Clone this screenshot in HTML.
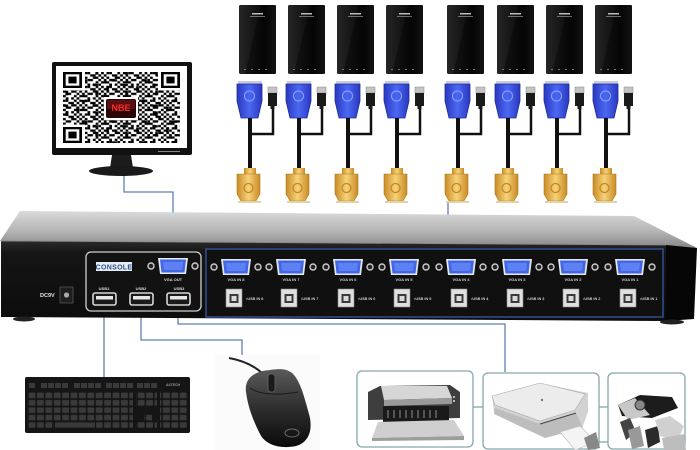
<!DOCTYPE html>
<html><head><meta charset="utf-8">
<style>
html,body{margin:0;padding:0;background:#fff;}
svg{display:block;}
text{font-family:"Liberation Sans",sans-serif;}
</style></head><body>
<svg width="700" height="450" viewBox="0 0 700 450" xmlns="http://www.w3.org/2000/svg">
<defs>
  <linearGradient id="tower" x1="0" x2="1" y1="0" y2="0">
    <stop offset="0" stop-color="#262626"/><stop offset="0.7" stop-color="#080808"/><stop offset="1" stop-color="#1e1e1e"/>
  </linearGradient>
  <linearGradient id="blue" x1="0" x2="1">
    <stop offset="0" stop-color="#2a38c0"/><stop offset="0.5" stop-color="#4c68f2"/><stop offset="1" stop-color="#2a38c0"/>
  </linearGradient>
  <linearGradient id="gold" x1="0" x2="1">
    <stop offset="0" stop-color="#c98b25"/><stop offset="0.5" stop-color="#f6d27a"/><stop offset="1" stop-color="#c98b25"/>
  </linearGradient>
  <linearGradient id="topface" x1="0" x2="0" y1="0" y2="1">
    <stop offset="0" stop-color="#dadada"/><stop offset="0.55" stop-color="#b4b4b4"/><stop offset="1" stop-color="#858585"/>
  </linearGradient>
  <linearGradient id="front" x1="0" x2="0" y1="0" y2="1">
    <stop offset="0" stop-color="#2a2a2a"/><stop offset="0.15" stop-color="#151515"/><stop offset="1" stop-color="#0c0c0c"/>
  </linearGradient>
  <linearGradient id="mouse" x1="0" x2="0" y1="0" y2="1">
    <stop offset="0" stop-color="#5a5a5a"/><stop offset="0.5" stop-color="#2e2e2e"/><stop offset="1" stop-color="#0a0a0a"/>
  </linearGradient>
  <pattern id="qr" x="63" y="72" width="21.76" height="13.8" patternUnits="userSpaceOnUse">
    <rect x="0" y="0" width="2.72" height="2.3"/><rect x="2.72" y="0" width="2.72" height="2.3"/><rect x="10.88" y="0" width="2.72" height="2.3"/><rect x="16.32" y="0" width="2.72" height="2.3"/>
    <rect x="5.44" y="2.3" width="5.44" height="2.3"/><rect x="13.6" y="2.3" width="2.72" height="2.3"/><rect x="19.04" y="2.3" width="2.72" height="2.3"/>
    <rect x="0" y="4.6" width="2.72" height="2.3"/><rect x="8.16" y="4.6" width="5.44" height="2.3"/><rect x="16.32" y="4.6" width="2.72" height="2.3"/>
    <rect x="2.72" y="6.9" width="5.44" height="2.3"/><rect x="13.6" y="6.9" width="2.72" height="2.3"/><rect x="19.04" y="6.9" width="2.72" height="2.3"/>
    <rect x="0" y="9.2" width="2.72" height="2.3"/><rect x="10.88" y="9.2" width="2.72" height="2.3"/><rect x="16.32" y="9.2" width="5.44" height="2.3"/>
    <rect x="2.72" y="11.5" width="2.72" height="2.3"/><rect x="8.16" y="11.5" width="2.72" height="2.3"/><rect x="13.6" y="11.5" width="2.72" height="2.3"/>
  </pattern>
  <pattern id="qr2" x="60" y="70" width="29.9" height="20.7" patternUnits="userSpaceOnUse">
    <rect x="5.44" y="0" width="2.72" height="4.6"/><rect x="21.76" y="9.2" width="5.44" height="2.3"/><rect x="2.72" y="13.8" width="5.44" height="2.3"/><rect x="16.32" y="16.1" width="2.72" height="4.6"/>
  </pattern>
  <pattern id="keys" x="28" y="392" width="8.4" height="7.4" patternUnits="userSpaceOnUse">
    <rect x="0.6" y="0.6" width="6.8" height="5.6" rx="0.8" fill="#3a3a3a"/>
  </pattern>

  <g id="pc">
    <rect x="0" y="5" width="37" height="69" rx="1.5" fill="url(#tower)"/>
    <path d="M 22 5 L 37 5 L 37 74 L 6 74 Z" fill="#000" opacity="0.35"/>
    <rect x="13" y="13" width="11" height="1.5" fill="#bbb"/>
    <rect x="11" y="16" width="15" height="0.8" fill="#888"/>
    <rect x="5" y="69" width="2" height="1" fill="#777"/><rect x="12" y="69" width="2" height="1" fill="#777"/><rect x="19" y="69" width="2" height="1" fill="#777"/><rect x="26" y="69" width="2" height="1" fill="#777"/>
    <rect x="-1" y="81" width="24" height="3" fill="#c9cbe0"/>
    <path d="M -2 84 L 23 84 L 23 101 L 19 118 L 2 118 L -2 101 Z" fill="url(#blue)" stroke="#1e2c9a" stroke-width="0.8"/>
    <circle cx="10.5" cy="96" r="5" fill="none" stroke="#7f9cff" stroke-width="1.2"/>
    <rect x="9" y="118" width="4" height="54" fill="#111"/>
    <path d="M 11 134 H 34 V 108" fill="none" stroke="#111" stroke-width="2.5"/>
    <rect x="29" y="87" width="9" height="6" fill="#c4c4c4" stroke="#888" stroke-width="0.5"/>
    <rect x="29" y="93" width="9" height="13" fill="#1a1a1a"/>
    <rect x="31.5" y="106" width="4" height="3" fill="#1a1a1a"/>
    <rect x="5" y="168" width="12" height="6" fill="url(#gold)"/>
    <path d="M -2 174 L 21 174 L 21 194 L 17 201 L 2 201 L -2 194 Z" fill="url(#gold)" stroke="#b07a1a" stroke-width="0.6"/>
    <circle cx="9.5" cy="188" r="4.5" fill="none" stroke="#c9861d" stroke-width="1.3"/>
    <rect x="-1" y="201" width="23" height="2" fill="#e2d2a8"/>
  </g>

  <g id="vga">
    <circle cx="-22" cy="0" r="3" fill="#222" stroke="#ccc" stroke-width="1.4"/>
    <circle cx="22" cy="0" r="3" fill="#222" stroke="#ccc" stroke-width="1.4"/>
    <path d="M -15 -8 L 15 -8 L 13 8 L -13 8 Z" fill="#e8e8e8"/>
    <path d="M -13 -6.5 L 13 -6.5 L 11.5 6.5 L -11.5 6.5 Z" fill="#3f67e6"/>
    <path d="M -10 -4 L 10 -4 L 9 4 L -9 4 Z" fill="#6c8cf6" opacity="0.7"/>
  </g>
  <g id="usbb">
    <rect x="0" y="0" width="16" height="18" fill="#e0e0e0" stroke="#888" stroke-width="0.6"/>
    <path d="M 3.5 5 L 12.5 5 L 12.5 14 L 3.5 14 Z" fill="#3a3a3a"/>
    <rect x="5.5" y="7" width="5" height="5" fill="#d8d8d8"/>
  </g>
  <g id="usba">
    <rect x="0" y="0" width="23" height="12" rx="2" fill="#1a1a1a" stroke="#d6d6d6" stroke-width="1.6"/>
    <rect x="3" y="3" width="17" height="3.5" fill="#e8e8e8"/>
  </g>
</defs>

<rect width="700" height="450" fill="#fff"/>

<!-- Monitor -->
<rect x="52" y="62" width="140" height="93" rx="2" fill="#111"/>
<rect x="56" y="66" width="131" height="82" fill="#fff"/>
<rect x="158" y="151" width="22" height="1" fill="#888"/>
<path d="M 112 155 L 131 155 L 133 168 L 110 168 Z" fill="#1c1c1c"/>
<ellipse cx="121" cy="171" rx="32" ry="5" fill="#1a1a1a"/>
<rect x="63" y="72" width="117" height="71" fill="url(#qr)"/>
<rect x="63" y="72" width="117" height="71" fill="url(#qr2)"/>
<g>
  <rect x="63" y="72" width="22" height="18.4" fill="#fff"/>
  <rect x="63" y="72" width="19" height="16" fill="#000"/><rect x="65.7" y="74.3" width="13.6" height="11.4" fill="#fff"/><rect x="68.4" y="76.6" width="8.2" height="6.8" fill="#000"/>
  <rect x="158" y="72" width="22" height="18.4" fill="#fff"/>
  <rect x="161" y="72" width="19" height="16" fill="#000"/><rect x="163.7" y="74.3" width="13.6" height="11.4" fill="#fff"/><rect x="166.4" y="76.6" width="8.2" height="6.8" fill="#000"/>
  <rect x="63" y="124.6" width="22" height="18.4" fill="#fff"/>
  <rect x="63" y="127" width="19" height="16" fill="#000"/><rect x="65.7" y="129.3" width="13.6" height="11.4" fill="#fff"/><rect x="68.4" y="131.6" width="8.2" height="6.8" fill="#000"/>
</g>
<rect x="104" y="97" width="34" height="23" fill="#fff"/>
<rect x="106" y="99" width="30" height="19" rx="2" fill="#2a0606"/>
<rect x="107" y="100" width="28" height="9" fill="#5a1010"/>
<text x="121" y="111" text-anchor="middle" font-size="9" font-weight="bold" fill="#ff2a2a">NBE</text>

<!-- connector lines -->
<g fill="none" stroke="#5f81b3" stroke-width="1.3">
  <path d="M 124 176 V 192 H 173 V 258"/>
  <path d="M 448 203 V 250"/>
  <path d="M 104 305 V 377"/>
  <path d="M 141 305 V 340 H 242 V 357"/>
  <path d="M 178 305 V 324 H 505 V 372"/>
</g>

<!-- PCs -->
<use href="#pc" x="239"/>
<use href="#pc" x="288"/>
<use href="#pc" x="337"/>
<use href="#pc" x="386"/>
<use href="#pc" x="447"/>
<use href="#pc" x="497"/>
<use href="#pc" x="546"/>
<use href="#pc" x="595"/>

<!-- KVM -->
<path d="M 20 211 L 634 216 L 697 248 L 0 241 Z" fill="url(#topface)"/>
<path d="M 1 241 L 666 245 L 666 321 L 1 317 Z" fill="url(#front)"/>
<path d="M 666 245 L 697 248 L 694 319 L 666 321 Z" fill="#060606"/>
<ellipse cx="24" cy="319" rx="11" ry="2.5" fill="#222"/>
<ellipse cx="672" cy="322" rx="12" ry="2.5" fill="#222"/>
<line x1="1" y1="241" x2="666" y2="245" stroke="#8a8a8a" stroke-width="0.8"/>

<!-- console panel -->
<rect x="86" y="252" width="115" height="59" rx="5" fill="#121212" stroke="#cfcfcf" stroke-width="1.3"/>
<rect x="96" y="262" width="36" height="9" fill="#e8eef6"/>
<text x="114" y="269.5" text-anchor="middle" font-size="7" font-weight="bold" fill="#2d4f8a" letter-spacing="0.3">CONSOLE</text>
<use href="#vga" x="173" y="266"/>
<text x="173" y="281" text-anchor="middle" font-size="4" font-weight="bold" fill="#ddd">VGA OUT</text>
<text x="104" y="290" text-anchor="middle" font-size="4" font-weight="bold" fill="#ddd">USB1</text>
<text x="141" y="290" text-anchor="middle" font-size="4" font-weight="bold" fill="#ddd">USB2</text>
<text x="179" y="290" text-anchor="middle" font-size="4" font-weight="bold" fill="#ddd">USB3</text>
<use href="#usba" x="93" y="293"/>
<use href="#usba" x="130" y="293"/>
<use href="#usba" x="167" y="293"/>
<text x="40" y="297" font-size="5.5" font-weight="bold" fill="#e6e6e6">DC9V</text>
<rect x="60" y="287" width="13" height="16" fill="#1e1e1e" stroke="#555" stroke-width="0.8"/>
<circle cx="66.5" cy="295" r="2.6" fill="#aaa"/>

<!-- inputs panel -->
<rect x="206" y="249" width="457" height="68" fill="#101010" stroke="#30508f" stroke-width="1.5"/>
<g>
  <use href="#vga" x="236" y="267"/><use href="#vga" x="291" y="267"/><use href="#vga" x="348" y="267"/><use href="#vga" x="404" y="267"/>
  <use href="#vga" x="461" y="267"/><use href="#vga" x="517" y="267"/><use href="#vga" x="573" y="267"/><use href="#vga" x="630" y="267"/>
</g>
<g font-size="4" font-weight="bold" fill="#cfcfcf" text-anchor="middle">
  <text x="236" y="281">VGA IN 8</text><text x="291" y="281">VGA IN 7</text><text x="348" y="281">VGA IN 6</text><text x="404" y="281">VGA IN 5</text>
  <text x="461" y="281">VGA IN 4</text><text x="517" y="281">VGA IN 3</text><text x="573" y="281">VGA IN 2</text><text x="630" y="281">VGA IN 1</text>
</g>
<g>
  <use href="#usbb" x="226" y="289"/><use href="#usbb" x="281" y="289"/><use href="#usbb" x="338" y="289"/><use href="#usbb" x="394" y="289"/>
  <use href="#usbb" x="451" y="289"/><use href="#usbb" x="507" y="289"/><use href="#usbb" x="563" y="289"/><use href="#usbb" x="620" y="289"/>
</g>
<g font-size="3.8" font-weight="bold" fill="#cfcfcf">
  <text x="246" y="300">•USB IN 8</text><text x="301" y="300">•USB IN 7</text><text x="358" y="300">•USB IN 6</text><text x="414" y="300">•USB IN 5</text>
  <text x="471" y="300">•USB IN 4</text><text x="527" y="300">•USB IN 3</text><text x="583" y="300">•USB IN 2</text><text x="640" y="300">•USB IN 1</text>
</g>

<!-- Keyboard -->
<rect x="25" y="377" width="165" height="56" rx="2" fill="#151515"/>
<g fill="#3a3a3a">
  <rect x="29" y="383" width="6" height="5"/>
  <rect x="41" y="383" width="6" height="5"/><rect x="48" y="383" width="6" height="5"/><rect x="55" y="383" width="6" height="5"/><rect x="62" y="383" width="6" height="5"/>
  <rect x="74" y="383" width="6" height="5"/><rect x="81" y="383" width="6" height="5"/><rect x="88" y="383" width="6" height="5"/><rect x="95" y="383" width="6" height="5"/>
  <rect x="106" y="383" width="6" height="5"/><rect x="113" y="383" width="6" height="5"/><rect x="120" y="383" width="6" height="5"/><rect x="127" y="383" width="6" height="5"/>
  <rect x="137" y="383" width="6" height="5"/><rect x="144" y="383" width="6" height="5"/><rect x="151" y="383" width="6" height="5"/>
</g>
<rect x="28" y="392" width="105" height="37" fill="url(#keys)"/>
<rect x="136" y="392" width="21" height="15" fill="url(#keys)"/>
<rect x="144" y="414" width="8" height="8" fill="url(#keys)"/>
<rect x="136" y="421" width="21" height="8" fill="url(#keys)"/>
<rect x="160" y="392" width="27" height="37" fill="url(#keys)"/>
<rect x="54" y="422" width="42" height="6" fill="#151515"/>
<rect x="55" y="422.5" width="40" height="5" rx="0.8" fill="#3a3a3a"/>
<text x="166" y="386" font-size="3.5" font-weight="bold" fill="#999">A4TECH</text>

<!-- Mouse -->
<rect x="215" y="355" width="105" height="95" fill="#fbfbfb"/>
<path d="M 229 358 C 240 360 252 364 262 373" fill="none" stroke="#222" stroke-width="2"/>
<path d="M 270 370 C 255 371 244 378 246 392 C 248 408 254 422 260 434 C 266 446 282 449 296 446 C 310 442 313 428 309 414 C 304 396 300 380 292 373 C 285 368 278 369 270 370 Z" fill="url(#mouse)"/>
<path d="M 250 388 C 258 394 276 396 298 392" fill="none" stroke="#1a1a1a" stroke-width="1"/>
<rect x="268" y="374" width="7" height="18" rx="3" fill="#1a1a1a" stroke="#666" stroke-width="0.8"/>
<ellipse cx="292" cy="433" rx="7" ry="4" fill="none" stroke="#888" stroke-width="0.8"/>

<!-- Peripheral boxes -->
<g fill="#fff" stroke="#86a6ae" stroke-width="1.3">
  <rect x="357" y="371" width="116" height="76" rx="5"/>
  <rect x="483" y="373" width="116" height="76" rx="5"/>
  <rect x="608" y="373" width="77" height="76" rx="5"/>
</g>
<g stroke="#86a6ae" stroke-width="1.3">
  <line x1="473" y1="407" x2="483" y2="407"/>
  <line x1="599" y1="407" x2="608" y2="407"/>
  <line x1="599" y1="442" x2="608" y2="442"/>
</g>
<!-- printer -->
<path d="M 368 392 L 380 386 L 450 385 L 460 392 L 460 418 L 368 420 Z" fill="#3e3e3e"/>
<path d="M 381 386 L 447 386 L 452 398 L 384 400 Z" fill="#d6d6d6"/>
<path d="M 384 400 L 452 398 L 452 404 L 384 406 Z" fill="#9a9a9a"/>
<rect x="383" y="406" width="66" height="16" fill="#1a1a1a"/>
<g fill="#555"><rect x="387" y="410" width="2" height="8"/><rect x="393" y="410" width="2" height="8"/><rect x="399" y="410" width="2" height="8"/><rect x="405" y="410" width="2" height="8"/><rect x="411" y="410" width="2" height="8"/><rect x="417" y="410" width="2" height="8"/><rect x="423" y="410" width="2" height="8"/><rect x="429" y="410" width="2" height="8"/><rect x="435" y="410" width="2" height="8"/></g>
<path d="M 378 422 L 454 420 L 464 436 L 372 438 Z" fill="#cfcfcf"/>
<path d="M 372 438 L 464 436 L 464 440 L 372 441 Z" fill="#9d9d9d"/>
<rect x="453" y="396" width="2" height="2" fill="#bbb"/><rect x="453" y="400" width="2" height="2" fill="#bbb"/>
<!-- scanner -->
<path d="M 492 396 L 540 383 L 588 393 L 588 412 L 582 428 L 545 436 L 494 412 Z" fill="#d2d2d2"/>
<path d="M 492 396 L 540 383 L 585 394 L 575 410 L 540 421 L 495 405 Z" fill="#ececec" stroke="#aaa" stroke-width="0.6"/>
<path d="M 495 408 L 540 424 L 576 413 L 583 428 L 545 438 L 494 414 Z" fill="#bdbdbd"/>
<path d="M 540 424 L 576 413" stroke="#444" stroke-width="1"/>
<circle cx="542" cy="400" r="1.2" fill="#777"/>
<!-- usb drives -->
<path d="M 618 405 L 640 395 L 672 397 L 678 408 L 652 418 L 622 416 Z" fill="#1c1c1c"/>
<path d="M 618 405 L 635 398 L 650 415 L 628 420 Z" fill="#c8c8c8"/>
<circle cx="640" cy="405" r="5" fill="#888" stroke="#333" stroke-width="1"/>
<path d="M 620 422 L 630 418 L 636 432 L 626 440 Z" fill="#444"/>
<path d="M 628 430 L 640 426 L 644 446 L 632 449 Z" fill="#999"/>
<path d="M 645 430 L 658 426 L 660 442 L 648 448 Z" fill="#2a2a2a"/>
<path d="M 655 420 L 670 416 L 684 426 L 678 440 L 660 436 Z" fill="#d0d0d0"/>
<path d="M 662 438 L 684 434 L 686 450 L 664 450 Z" fill="#bdbdbd"/>
<path d="M 560 432 L 580 426 L 596 442 L 575 450 Z" fill="#f4f4f4" stroke="#bbb" stroke-width="0.6"/>
<path d="M 584 438 L 596 432 L 600 448 L 588 450 Z" fill="#888"/>
</svg>
</body></html>
